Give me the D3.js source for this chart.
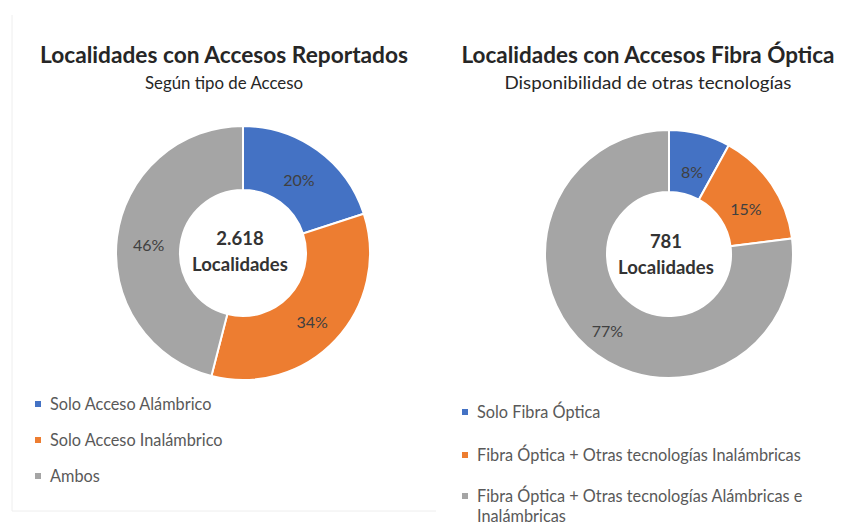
<!DOCTYPE html>
<html><head><meta charset="utf-8">
<script src="https://cdn.jsdelivr.net/npm/d3@7"></script>
<style>body{margin:0;background:#fff}svg{display:block}text{font-family:Lato,"Open Sans",sans-serif}</style>
</head><body>
<svg id="c" width="854" height="529"></svg>
<script>
const titles = ["Localidades con Accesos Reportados", "Localidades con Accesos Fibra Óptica"];
const subtitles = ["Según tipo de Acceso", "Disponibilidad de otras tecnologías"];
const totals = ["2.618", "781"];
const centerLabel = "Localidades";
const categoriesA = ["Solo Acceso Alámbrico", "Solo Acceso Inalámbrico", "Ambos"];
const valuesA = [20, 34, 46];
const categoriesB = ["Solo Fibra Óptica", "Fibra Óptica + Otras tecnologías Inalámbricas", ["Fibra Óptica + Otras tecnologías Alámbricas e", "Inalámbricas"]];
const valuesB = [8, 15, 77];
const colors = ["#4472C4", "#ED7D31", "#A5A5A5"];

const svg = d3.select("#c");
// faint panel frame on the left
svg.append("path").attr("d","M12,15 V511 H436").attr("fill","none").attr("stroke","#eeeeee").attr("stroke-width",1);

const panels = [
  {title:titles[0], sub:subtitles[0], total:totals[0], cats:categoriesA, vals:valuesA,
   tx:224, titleW:368, subW:158, cx:243, cy:253, ro:127, ri:63, labDy:4,
   legX:38, legY:[404,440,476], tyT:245, tyB:271},
  {title:titles[1], sub:subtitles[1], total:totals[1], cats:categoriesB, vals:valuesB,
   tx:648, titleW:373, subW:287, cx:669, cy:254, ro:124, ri:62, labDy:8,
   legX:465, legY:[412,455,496], tyT:248, tyB:274}
];

panels.forEach(p => {
  svg.append("text").attr("x",p.tx).attr("y",63).attr("text-anchor","middle")
    .attr("font-size",22).attr("font-weight","bold").attr("fill","#262626")
    .attr("textLength",p.titleW).attr("lengthAdjust","spacingAndGlyphs").text(p.title);
  svg.append("text").attr("x",p.tx).attr("y",89).attr("text-anchor","middle")
    .attr("font-size",17).attr("fill","#262626")
    .attr("textLength",p.subW).attr("lengthAdjust","spacingAndGlyphs").text(p.sub);

  const pie = d3.pie().sort(null).value(d=>d);
  const arc = d3.arc().innerRadius(p.ri).outerRadius(p.ro);
  const lab = d3.arc().innerRadius((p.ri+p.ro)/2).outerRadius((p.ri+p.ro)/2);
  const g = svg.append("g").attr("transform",`translate(${p.cx},${p.cy})`);
  const arcs = pie(p.vals);
  g.selectAll("path").data(arcs).join("path").attr("d",arc)
    .attr("fill",(d,i)=>colors[i]).attr("stroke","#fff").attr("stroke-width",2);
  g.selectAll("text.l").data(arcs).join("text").attr("class","l")
    .attr("transform",d=>{const c=lab.centroid(d);return `translate(${c[0]},${c[1]+p.labDy})`;})
    .attr("text-anchor","middle")
    .attr("dy","0.35em").attr("font-size",16).attr("fill","#404040")
    .text(d=>d.data+"%");
  svg.append("text").attr("x",p.cx-3).attr("y",p.tyT).attr("text-anchor","middle")
    .attr("font-size",18.5).attr("font-weight","bold").attr("fill","#333").text(p.total);
  svg.append("text").attr("x",p.cx-3).attr("y",p.tyB).attr("text-anchor","middle")
    .attr("font-size",18.5).attr("font-weight","bold").attr("fill","#333").text(centerLabel);

  p.cats.forEach((c,i) => {
    const y = p.legY[i];
    svg.append("rect").attr("x",p.legX-3).attr("y",y-3).attr("width",6).attr("height",6).attr("fill",colors[i]);
    const lines = Array.isArray(c) ? c : [c];
    lines.forEach((ln,j) => {
      svg.append("text").attr("x",p.legX+12).attr("y",y+j*20).attr("dy","0.35em")
        .attr("font-size",16.3).attr("fill","#595959").text(ln);
    });
  });
});
</script>
</body></html>
